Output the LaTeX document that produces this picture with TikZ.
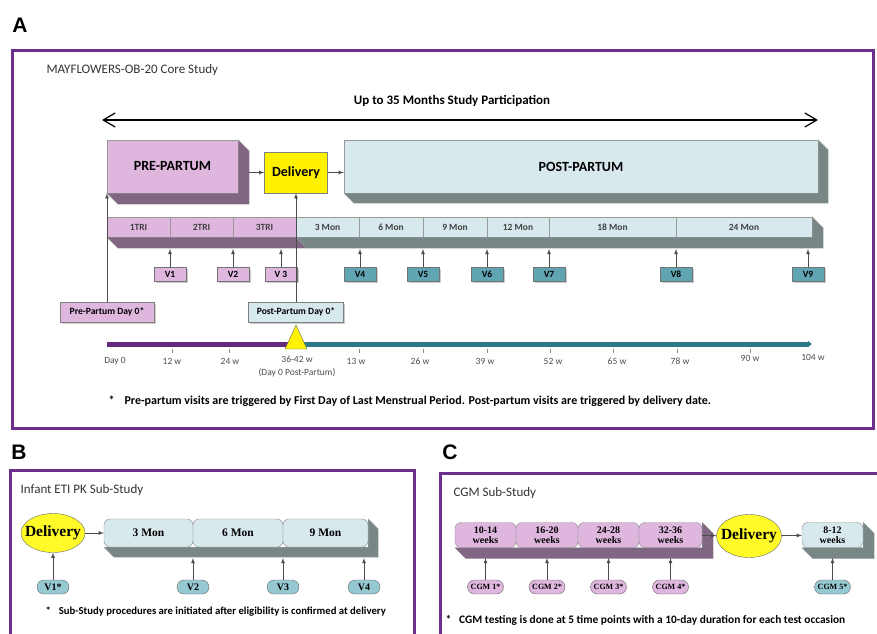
\documentclass[tikz,border=0pt]{standalone}
\usepackage{fontspec}
\setmainfont{Carlito}
\newfontfamily\cambria{Liberation Serif}
\newfontfamily\arialf{Liberation Sans}
\usetikzlibrary{arrows, arrows.meta, shapes.geometric, shadows}
\usepackage{xcolor}

\definecolor{pinkface}{RGB}{222,182,222}
\definecolor{pinkdark}{RGB}{128,102,130}
\definecolor{blueface}{RGB}{216,233,237}
\definecolor{graydark}{RGB}{120,134,134}
\definecolor{tealvis}{RGB}{98,165,178}
\definecolor{tealpill}{RGB}{150,200,210}
\definecolor{framepurple}{RGB}{108,48,140}
\definecolor{linepurple}{RGB}{100,40,125}
\definecolor{lineteal}{RGB}{45,120,135}
\definecolor{delyellow}{RGB}{255,250,40}

\tikzset{
  frame/.style={draw=framepurple, line width=3pt},
  letter/.style={font=\arialf\bfseries\fontsize{21}{24}\selectfont},
  title/.style={anchor=west, text=black!80, font=\fontsize{13}{15}\selectfont},
  note/.style={anchor=west, font=\bfseries\fontsize{12}{14}\selectfont},
  pinkbox/.style={draw=black!40, fill=pinkface, inner sep=0pt},
  bluebox/.style={draw=black!40, fill=blueface, inner sep=0pt},
  delbox/.style={draw=black!50, fill=yellow, inner sep=0pt, font=\bfseries\fontsize{14}{16}\selectfont},
  cell/.style={inner sep=0pt, minimum height=20pt, text=black!75, font=\bfseries\fontsize{9.5}{10}\selectfont},
  visit/.style={draw=black!55, inner sep=0pt, minimum width=32pt, minimum height=14pt,
    font=\bfseries\fontsize{9.5}{10}\selectfont, drop shadow={shadow xshift=1.5pt, shadow yshift=-1.5pt, opacity=.4}},
  dayzero/.style={draw=black!50, inner sep=0pt, minimum height=20pt, font=\bfseries\fontsize{9.6}{11}\selectfont,
    drop shadow={shadow xshift=1.5pt, shadow yshift=-1.5pt, opacity=.4}},
  tick/.style={text=black!70, font=\fontsize{9.5}{10}\selectfont},
  delell/.style={ellipse, draw=black!60, fill=delyellow, inner sep=0pt, font=\cambria\bfseries\fontsize{15.5}{17}\selectfont},
  subcell/.style={draw=black!45, rounded corners=6pt, inner sep=0pt, align=center, font=\cambria\bfseries\fontsize{10}{10}\selectfont},
  pill/.style={draw=black!60, rounded corners=7pt, inner sep=0pt, minimum height=14pt},
  conn/.style={-latex, draw=black!70, thick}
}

\begin{document}
\begin{tikzpicture}[x=1pt, y=-1pt]
  \useasboundingbox (0,0) rectangle (877,633);

  % ---------------- panel A
  \node[letter] (letA) at (20,25) {A};
  \draw[frame] (12,50) rectangle (873,428);
  \node[title] (titleA) at (43,70) {MAYFLOWERS-OB-20 Core Study};

  % study span
  \node[font=\bfseries\fontsize{13}{15}\selectfont] (span) at (452,101) {Up to 35 Months Study Participation};
  \coordinate (spanL) at (102,120);
  \coordinate (spanR) at (818,120);
  \draw[line width=1.2pt, {Straight Barb[length=12pt,width=14pt]}-{Straight Barb[length=12pt,width=14pt]}] (spanL) -- (spanR);

  % phases
  \node[pinkbox, minimum width=131pt, minimum height=53pt, font=\bfseries\fontsize{14}{16}\selectfont] (pre) at (172.5,166.5) {PRE-PARTUM};
  \fill[pinkdark, draw=black!35] (pre.north east) -- ([shift={(11,11)}]pre.north east) -- ([shift={(11,11)}]pre.south east)
    -- ([shift={(11,11)}]pre.south west) -- (pre.south west) -- (pre.south east) -- cycle;

  \node[delbox, minimum width=63pt, minimum height=41pt] (delA) at (296,172.5) {Delivery};

  \node[bluebox, minimum width=474pt, minimum height=53pt, font=\bfseries\fontsize{14}{16}\selectfont] (post) at (581,166.5) {POST-PARTUM};
  \fill[graydark, draw=black!35] (post.north east) -- ([shift={(10,10)}]post.north east) -- ([shift={(10,10)}]post.south east)
    -- ([shift={(10,10)}]post.south west) -- (post.south west) -- (post.south east) -- cycle;

  \coordinate (preE) at ([xshift=11pt]pre.east);
  \draw[conn] (preE |- delA.west) -- (delA.west);
  \draw[conn] (delA.east) -- (delA.east -| post.west);

  % trimester / month bar
  \node[cell, pinkbox, minimum width=63pt] (tri1) at (138.5,227) {1TRI};
  \node[cell, pinkbox, minimum width=63pt] (tri2) at (201.5,227) {2TRI};
  \node[cell, pinkbox, minimum width=63pt] (tri3) at (264.5,227) {3TRI};
  \node[cell, bluebox, minimum width=63pt] (m3) at (327.5,227) {3 Mon};
  \node[cell, bluebox, minimum width=64pt] (m6) at (391,227) {6 Mon};
  \node[cell, bluebox, minimum width=64pt] (m9) at (455,227) {9 Mon};
  \node[cell, bluebox, minimum width=62pt] (m12) at (518,227) {12 Mon};
  \node[cell, bluebox, minimum width=127pt] (m18) at (612.5,227) {18 Mon};
  \node[cell, bluebox, minimum width=136pt] (m24) at (744,227) {24 Mon};
  \fill[pinkdark, draw=black!35] (tri1.south west) -- (tri3.south east) -- ([shift={(11,11)}]tri3.south east)
    -- ([shift={(11,11)}]tri1.south west) -- cycle;
  \fill[graydark, draw=black!35] (m3.south west) -- (m24.south east) -- (m24.north east) -- ([shift={(11,11)}]m24.north east)
    -- ([shift={(11,11)}]m24.south east) -- ([shift={(11,11)}]m3.south west) -- cycle;
  \coordinate (barA) at (0,249);

  % visits
  \node[visit, fill=pinkface] (v1) at (170,274) {V1};
  \node[visit, fill=pinkface] (v2) at (233,274) {V2};
  \node[visit, fill=pinkface] (v3) at (281,274) {V 3};
  \node[visit, fill=tealvis] (v4) at (360,274) {V4};
  \node[visit, fill=tealvis] (v5) at (423,274) {V5};
  \node[visit, fill=tealvis] (v6) at (487,274) {V6};
  \node[visit, fill=tealvis] (v7) at (549,274) {V7};
  \node[visit, fill=tealvis] (v8) at (676,274) {V8};
  \node[visit, fill=tealvis] (v9) at (808,274) {V9};
  \draw[conn] (v1) -- (v1 |- barA);
  \draw[conn] (v2) -- (v2 |- barA);
  \draw[conn] (v3) -- (v3 |- barA);
  \draw[conn] (v4) -- (v4 |- barA);
  \draw[conn] (v5) -- (v5 |- barA);
  \draw[conn] (v6) -- (v6 |- barA);
  \draw[conn] (v7) -- (v7 |- barA);
  \draw[conn] (v8) -- (v8 |- barA);
  \draw[conn] (v9) -- (v9 |- barA);

  % day 0 triggers
  \node[dayzero, fill=pinkface, minimum width=94pt] (preday) at (107,312) {Pre-Partum Day 0*};
  \node[dayzero, fill=blueface, minimum width=95pt] (postday) at (296,312) {Post-Partum Day 0*};
  \draw[conn] (preday) -- (preday |- pre.south);
  \draw[conn] (postday) -- (delA);

  % time axis
  \coordinate (t0) at (107,344);
  \coordinate (tdel) at (296,344);
  \coordinate (tend) at (812,344);
  \draw[line width=5pt, linepurple] (t0) -- (tdel);
  \draw[line width=5pt, lineteal, -{Latex[length=4pt,width=7pt]}] (tdel) -- (tend);
  \draw[draw=black!60, fill=yellow] (296,325) -- (307,349) -- (285,349) -- cycle;

  \draw[black!45] (172,349) -- (172,353) (229,349) -- (229,353) (359,349) -- (359,353) (423,349) -- (423,353)
    (487,349) -- (487,353) (550,349) -- (550,353) (613,349) -- (613,353) (677,349) -- (677,353) (750,349) -- (750,353);
  \node[tick] (w0) at (115,361) {Day 0};
  \node[tick] (w12) at (172,361) {12 w};
  \node[tick] (w24) at (230,361) {24 w};
  \node[tick] (w36) at (297,359) {36-42 w};
  \node[tick] (w36b) at (297,373) {(Day 0 Post-Partum)};
  \node[tick] (w13) at (356,361) {13 w};
  \node[tick] (w26) at (420,361) {26 w};
  \node[tick] (w39) at (485,361) {39 w};
  \node[tick] (w52) at (553,361) {52 w};
  \node[tick] (w65) at (617,361) {65 w};
  \node[tick] (w78) at (680,361) {78 w};
  \node[tick] (w90) at (750,358) {90 w};
  \node[tick] (w104) at (813,357) {104 w};

  \node[note] (noteA) at (105,401) {*\hspace{10pt}Pre-partum visits are triggered by First Day of Last Menstrual Period. Post-partum visits are triggered by delivery date.};

  % ---------------- panel B
  \node[letter] (letB) at (19,452) {B};
  \draw[frame] (10,470) rectangle (414,650);
  \node[title] (titleB) at (17,490) {Infant ETI PK Sub-Study};

  \node[delell, minimum width=64pt, minimum height=39pt] (delB) at (53,533) {\makebox[0pt]{Delivery}};
  \node[subcell, fill=blueface, minimum width=89pt, minimum height=28pt, font=\cambria\bfseries\fontsize{11.5}{12}\selectfont] (b3) at (148.5,533) {3 Mon};
  \node[subcell, fill=blueface, minimum width=90pt, minimum height=28pt, font=\cambria\bfseries\fontsize{11.5}{12}\selectfont] (b6) at (238,533) {6 Mon};
  \node[subcell, fill=blueface, minimum width=85pt, minimum height=28pt, font=\cambria\bfseries\fontsize{11.5}{12}\selectfont] (b9) at (325.5,533) {9 Mon};
  \fill[graydark, draw=black!35] (b9.north east) -- ([shift={(10,10)}]b9.north east) -- ([shift={(10,10)}]b9.south east)
    -- ([shift={(10,10)}]b3.south west) -- (b3.south west) -- (b9.south east) -- cycle;
  \draw[conn] (delB) -- (b3);
  \coordinate (barB) at (0,558);

  \node[pill, fill=tealpill, minimum width=32pt, font=\cambria\bfseries\fontsize{10}{11}\selectfont] (pb1) at (53,587) {V1*};
  \node[pill, fill=tealpill, minimum width=32pt, font=\cambria\bfseries\fontsize{10}{11}\selectfont] (pb2) at (193,587) {V2};
  \node[pill, fill=tealpill, minimum width=32pt, font=\cambria\bfseries\fontsize{10}{11}\selectfont] (pb3) at (283,587) {V3};
  \node[pill, fill=tealpill, minimum width=32pt, font=\cambria\bfseries\fontsize{10}{11}\selectfont] (pb4) at (364,587) {V4};
  \draw[conn] (pb1) -- (delB);
  \draw[conn] (pb2) -- (pb2 |- barB);
  \draw[conn] (pb3) -- (pb3 |- barB);
  \draw[conn] (pb4) -- (pb4 |- barB);

  \node[note, font=\bfseries\fontsize{10.7}{13}\selectfont] (noteB) at (42,612) {*\hspace{8pt}Sub-Study procedures are initiated after eligibility is confirmed at delivery};

  % ---------------- panel C
  \node[letter] (letC) at (450,452) {C};
  \draw[frame] (440,473) rectangle (890,650);
  \node[title] (titleC) at (450,493) {CGM Sub-Study};

  \node[subcell, fill=pinkface, minimum width=61pt, minimum height=25pt] (c1) at (485.5,535) {10-14\\weeks};
  \node[subcell, fill=pinkface, minimum width=62pt, minimum height=25pt] (c2) at (547,535) {16-20\\weeks};
  \node[subcell, fill=pinkface, minimum width=61pt, minimum height=25pt] (c3) at (608.5,535) {24-28\\weeks};
  \node[subcell, fill=pinkface, minimum width=63pt, minimum height=25pt] (c4) at (670.5,535) {32-36\\weeks};
  \fill[pinkdark, draw=black!35] (c4.north east) -- ([shift={(11,11)}]c4.north east) -- ([shift={(11,11)}]c4.south east)
    -- ([shift={(11,11)}]c1.south west) -- (c1.south west) -- (c4.south east) -- cycle;

  \node[delell, minimum width=65pt, minimum height=43pt] (delC) at (749,536) {\makebox[0pt]{Delivery}};
  \node[subcell, fill=blueface, minimum width=61pt, minimum height=25pt] (c5) at (832.5,535) {8-12\\weeks};
  \fill[graydark, draw=black!35] (c5.north east) -- ([shift={(11,11)}]c5.north east) -- ([shift={(11,11)}]c5.south east)
    -- ([shift={(11,11)}]c5.south west) -- (c5.south west) -- (c5.south east) -- cycle;
  \draw[conn] (c4) -- (delC);
  \draw[conn] (delC) -- (c5);
  \coordinate (barC) at (0,558);

  \node[pill, fill=pinkface, minimum width=36pt, font=\cambria\bfseries\fontsize{8}{9}\selectfont] (g1) at (485.5,587) {CGM 1*};
  \node[pill, fill=pinkface, minimum width=36pt, font=\cambria\bfseries\fontsize{8}{9}\selectfont] (g2) at (547,587) {CGM 2*};
  \node[pill, fill=pinkface, minimum width=36pt, font=\cambria\bfseries\fontsize{8}{9}\selectfont] (g3) at (608.5,587) {CGM 3*};
  \node[pill, fill=pinkface, minimum width=36pt, font=\cambria\bfseries\fontsize{8}{9}\selectfont] (g4) at (670.5,587) {CGM 4*};
  \node[pill, fill=tealpill, minimum width=36pt, font=\cambria\bfseries\fontsize{8}{9}\selectfont] (g5) at (832.5,587) {CGM 5*};
  \draw[conn] (g1) -- (g1 |- barC);
  \draw[conn] (g2) -- (g2 |- barC);
  \draw[conn] (g3) -- (g3 |- barC);
  \draw[conn] (g4) -- (g4 |- barC);
  \draw[conn] (g5) -- (g5 |- barC);

  \node[note, font=\bfseries\fontsize{11.4}{13}\selectfont] (noteC) at (442,620) {*\hspace{8pt}CGM testing is done at 5 time points with a 10-day duration for each test occasion};

\end{tikzpicture}
\end{document}
